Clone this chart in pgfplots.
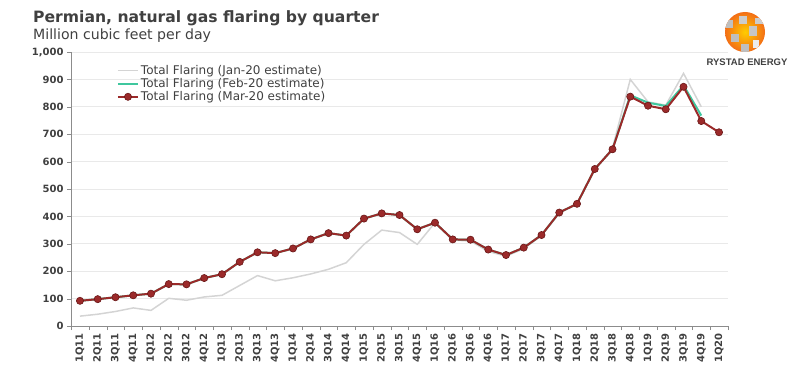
\documentclass[border=0pt]{standalone}
\usepackage{pgfplots}
\pgfplotsset{compat=1.18}
\usepackage{fontspec}
\setmainfont{DejaVu Sans}
\newfontfamily\logofont{Liberation Sans}
\definecolor{redl}{HTML}{9B2A2A}
\definecolor{redd}{HTML}{6A1818}
\definecolor{greenl}{HTML}{3FC79E}
\definecolor{greyl}{HTML}{D4D4D4}
\definecolor{txt}{HTML}{404040}
\definecolor{gridc}{HTML}{E9E9E9}
\definecolor{axc}{HTML}{8C8C8C}
\definecolor{logoor}{HTML}{F08A1C}
\pgfplotstableread{
x y
0 36
1 43
2 53
3 66
4 57
5 101
6 94
7 106
8 112
9 148
10 184
11 165
12 176
13 190
14 207
15 231
16 298
17 350
18 341
19 298
20 377
21 314
22 310
23 272
24 255
25 282
26 330
27 412
28 446
29 570
30 650
31 900
32 818
33 806
34 922
35 800
}\jan
\pgfplotstableread{
x y
0 92
1 98
2 105
3 112
4 118
5 153
6 152
7 175
8 189
9 234
10 269
11 266
12 283
13 316
14 339
15 330
16 392
17 411
18 405
19 353
20 377
21 316
22 315
23 279
24 259
25 286
26 332
27 414
28 446
29 573
30 645
31 842
32 815
33 803
34 878
35 768
}\feb
\pgfplotstableread{
x y
0 92
1 98
2 105
3 112
4 118
5 153
6 152
7 175
8 189
9 234
10 269
11 266
12 283
13 316
14 339
15 330
16 392
17 411
18 405
19 353
20 377
21 316
22 315
23 279
24 259
25 286
26 332
27 414
28 446
29 573
30 645
31 837
32 804
33 791
34 873
35 748
36 707
}\mar
\begin{document}
\begin{tikzpicture}
\useasboundingbox (0,0) rectangle (800pt,373pt);
\begin{axis}[
  at={(71.1pt,47pt)}, anchor=south west,
  scale only axis, width=656.8pt, height=274pt,
  xmin=-0.5, xmax=36.5, ymin=0, ymax=1000,
  axis x line*=bottom, axis y line*=left,
  axis line style={axc, -},
  xtick={0,...,36},
  xticklabels={1Q11,2Q11,3Q11,4Q11,1Q12,2Q12,3Q12,4Q12,1Q13,2Q13,3Q13,4Q13,1Q14,2Q14,3Q14,4Q14,1Q15,2Q15,3Q15,4Q15,1Q16,2Q16,3Q16,4Q16,1Q17,2Q17,3Q17,4Q17,1Q18,2Q18,3Q18,4Q18,1Q19,2Q19,3Q19,4Q19,1Q20},
  major x tick style={draw=none},
  minor xtick={-0.5,0.5,...,36.5},
  minor tick length=4pt,
  minor x tick style={axc},
  ytick={0,100,...,1000},
  major tick length=4pt,
  tick align=outside,
  y tick style={axc},
  ymajorgrids, grid style={gridc, line width=0.8pt},
  /pgf/number format/assume math mode=true,
  yticklabel style={/pgf/number format/1000 sep={,}, font=\fontsize{10}{12}\selectfont\bfseries, text=txt},
  xticklabel style={rotate=90, anchor=east, font=\fontsize{10}{12}\selectfont\bfseries, text=txt},
  legend style={at={(0.065,0.967)}, anchor=north west, draw=none, fill=none,
    font=\fontsize{12}{14}\selectfont, text=txt, row sep=-1.5pt,
    /tikz/every even column/.append style={column sep=0pt}},
  legend cell align=left,
  legend image code/.code={\draw[#1, mark=none] (0pt,0pt) -- (20pt,0pt); \draw[#1, mark repeat=1] plot coordinates {(10pt,0pt)};},
]
\addplot[greyl, line width=1.5pt] table {\jan};
\addlegendentry{Total Flaring (Jan-20 estimate)}
\addplot[greenl, line width=2pt] table {\feb};
\addlegendentry{Total Flaring (Feb-20 estimate)}
\addplot[redl, line width=2pt, mark=*, mark size=3.6pt, mark options={fill=redl, draw=redd, line width=0.6pt}] table {\mar};
\addlegendentry{Total Flaring (Mar-20 estimate)}
\end{axis}
\node[anchor=base west, inner sep=0pt, text=txt] at (33pt,350pt) {\fontsize{15.6}{18}\selectfont\bfseries Permian, natural gas flaring by quarter};
\node[anchor=base west, inner sep=0pt, text=txt] at (33pt,333.5pt) {\fontsize{14.1}{16}\selectfont Million cubic feet per day};
% logo
\begin{scope}[shift={(745pt,341pt)}]
\shade[inner color=yellow!60!orange, outer color=logoor!80!red] (0,0) circle (20pt);
\begin{scope}
\clip (0,0) circle (20pt);
\fill[gray!50] (-20pt,4pt) rectangle (-12pt,12pt);
\fill[gray!50] (-14pt,-10pt) rectangle (-6pt,-2pt);
\fill[gray!40] (-6pt,8pt) rectangle (2pt,16pt);
\fill[gray!45] (4pt,-4pt) rectangle (12pt,6pt);
\fill[gray!50] (-4pt,-20pt) rectangle (4pt,-12pt);
\fill[gray!40] (10pt,8pt) rectangle (20pt,14pt);
\fill[white!85!gray] (8pt,-16pt) rectangle (14pt,-8pt);
\end{scope}
\end{scope}
\node[anchor=center, inner sep=0pt, text=txt] at (747pt,311pt) {\logofont\fontsize{9.5}{11}\selectfont\bfseries RYSTAD ENERGY};
\end{tikzpicture}
\end{document}
